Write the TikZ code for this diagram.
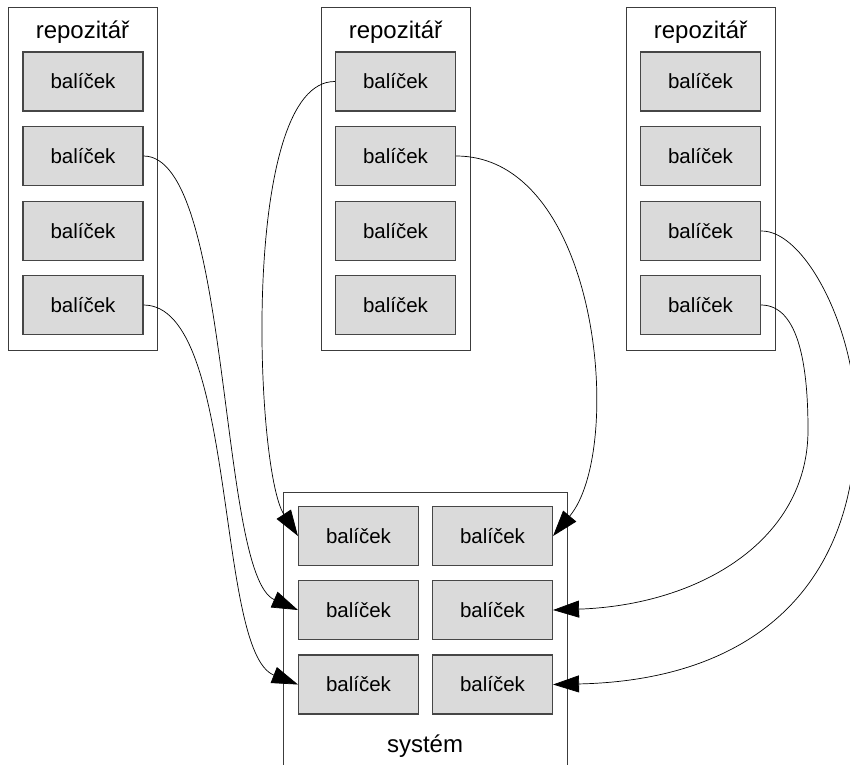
\documentclass[tikz,border=0pt]{standalone}
\usepackage{fontspec}
\setmainfont{Liberation Sans}
\usetikzlibrary{arrows.meta}
\definecolor{pkgfill}{RGB}{218,218,218}
\definecolor{pkgline}{RGB}{70,70,70}
\definecolor{boxline}{RGB}{60,60,60}
\begin{document}
\begin{tikzpicture}[x=1pt,y=-1pt,
  pkg/.style={draw=pkgline, line width=1.1pt, fill=pkgfill, minimum width=120pt, minimum height=59pt, inner sep=0pt, font=\fontsize{20.5}{24}\selectfont},
  repo/.style={draw=boxline, line width=0.9pt, minimum width=149pt, minimum height=343pt, inner sep=0pt},
  sysbox/.style={draw=boxline, line width=0.9pt, minimum width=284pt, minimum height=300pt, inner sep=0pt},
  ttl/.style={font=\fontsize{24}{28}\selectfont, anchor=base, inner sep=0pt},
  link/.style={draw=black, line width=0.7pt, -{Triangle[length=26pt,width=17pt]}}]
\useasboundingbox (0,0) rectangle (850,764);
\fill[white] (0,0) rectangle (850,764);

% repositories
\node[repo] (r1) at (82.5,178.5) {};
\node[repo] (r2) at (395.5,178.5) {};
\node[repo] (r3) at (700.5,178.5) {};
\node[ttl] (t1) at (82.5,38) {repozitář};
\node[ttl] (t2) at (395.5,38) {repozitář};
\node[ttl] (t3) at (700.5,38) {repozitář};

\foreach \i/\y in {1/81.5,2/156,3/231,4/305}{
  \node[pkg] (a\i) at (83,\y) {balíček};
  \node[pkg] (b\i) at (395.5,\y) {balíček};
  \node[pkg] (c\i) at (700.5,\y) {balíček};
}

% system
\node[sysbox] (sys) at (425,642) {};
\node[ttl] (ts) at (425,752) {systém};
\foreach \i/\y in {1/536,2/610,3/684.5}{
  \node[pkg] (s\i1) at (358.5,\y) {balíček};
  \node[pkg] (s\i2) at (492.5,\y) {balíček};
}

% connectors
\draw[link] (a2.east) .. controls (232,156) and (218,575) .. (s21.west);
\draw[link] (a4.east) .. controls (238,305) and (215,652) .. (s31.west);
\draw[link] (b1.west) .. controls (240,81) and (255,470) .. (s11.west);
\draw[link] (b2.east) .. controls (600,156) and (625,450) .. (s12.east);
\draw[link] (c3.east) .. controls (805,230) and (856,330) .. (856,420)
  .. controls (856,580) and (760,680) .. (s32.east);
\draw[link] (c4.east) .. controls (800,305) and (808,370) .. (808,430)
  .. controls (808,540) and (700,605) .. (s22.east);
\end{tikzpicture}
\end{document}
